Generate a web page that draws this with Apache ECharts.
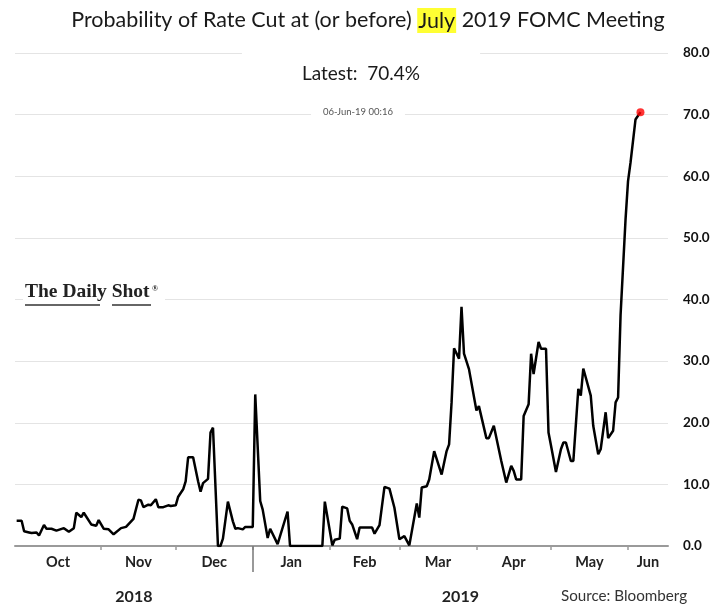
<!DOCTYPE html>
<html>
<head>
<meta charset="utf-8">
<script src="https://cdn.jsdelivr.net/npm/echarts@6/dist/echarts.min.js"></script>
<style>html,body{margin:0;padding:0;background:#fff;}#c{width:714px;height:607px;}</style>
</head>
<body>
<div id="c"></div>
<script>
// ---- data ----
const dates = [
'2018-09-28','2018-09-30','2018-10-01','2018-10-03','2018-10-04','2018-10-06','2018-10-07','2018-10-09','2018-10-10','2018-10-12',
'2018-10-14','2018-10-17','2018-10-19','2018-10-21','2018-10-22','2018-10-24','2018-10-25','2018-10-28','2018-10-30','2018-10-31',
'2018-11-02','2018-11-04','2018-11-06','2018-11-09','2018-11-11','2018-11-14','2018-11-16','2018-11-17','2018-11-18','2018-11-20',
'2018-11-21','2018-11-23','2018-11-24','2018-11-26','2018-11-28','2018-11-29','2018-12-01','2018-12-02','2018-12-04','2018-12-05',
'2018-12-06','2018-12-08','2018-12-10','2018-12-11','2018-12-12','2018-12-14','2018-12-15','2018-12-16','2018-12-18','2018-12-19',
'2018-12-20','2018-12-22','2018-12-24','2018-12-25','2018-12-26','2018-12-28','2018-12-29','2019-01-01','2019-01-02','2019-01-04',
'2019-01-05','2019-01-07','2019-01-08','2019-01-11','2019-01-15','2019-01-16','2019-01-29','2019-01-30','2019-02-02','2019-02-03',
'2019-02-05','2019-02-06','2019-02-08','2019-02-09','2019-02-10','2019-02-12','2019-02-13','2019-02-18','2019-02-19','2019-02-21',
'2019-02-23','2019-02-25','2019-02-27','2019-03-01','2019-03-03','2019-03-05','2019-03-08','2019-03-09','2019-03-10','2019-03-12',
'2019-03-13','2019-03-15','2019-03-18','2019-03-20','2019-03-21','2019-03-22','2019-03-23','2019-03-25','2019-03-26','2019-03-27',
'2019-03-29','2019-04-01','2019-04-02','2019-04-05','2019-04-06','2019-04-08','2019-04-09','2019-04-11','2019-04-13','2019-04-15',
'2019-04-16','2019-04-17','2019-04-19','2019-04-20','2019-04-22','2019-04-23','2019-04-24','2019-04-26','2019-04-27','2019-04-29',
'2019-04-30','2019-05-01','2019-05-03','2019-05-05','2019-05-06','2019-05-07','2019-05-09','2019-05-10','2019-05-12','2019-05-13',
'2019-05-14','2019-05-17','2019-05-18','2019-05-20','2019-05-21','2019-05-23','2019-05-24','2019-05-26','2019-05-27','2019-05-28',
'2019-05-29','2019-05-31','2019-06-01','2019-06-02','2019-06-04','2019-06-06'
];
const probability = [
4.1,4.1,2.4,2.2,2.1,2.2,1.7,3.4,2.8,2.8,
2.5,2.9,2.3,2.9,5.4,4.7,5.4,3.5,3.3,4.2,
2.8,2.7,1.9,2.9,3.1,4.4,7.5,7.4,6.3,6.7,
6.6,7.6,6.3,6.3,6.6,6.5,6.6,8.0,9.2,10.5,
14.4,14.4,10.5,8.8,10.2,10.9,18.4,19.2,0,0,
1.2,7.2,4.0,2.8,2.9,2.7,3.1,3.1,24.6,7.3,
5.9,1.3,2.8,0.3,5.6,0,0,7.2,0.1,1.0,
1.2,6.4,6.1,4.1,3.5,1.1,3.0,3.0,2.0,3.4,
9.6,9.3,6.2,1.1,1.6,0.1,6.9,4.6,9.5,9.7,
10.8,15.4,11.6,15.4,16.5,23.3,32.1,30.4,38.8,31.2,
28.7,22.0,22.7,17.5,17.5,19.5,17.6,13.8,10.3,13.0,
12.2,10.8,10.8,21.1,23.0,31.2,27.9,33.1,32.0,32.0,
18.4,16.3,12.0,15.7,16.8,16.8,13.8,13.8,25.5,24.4,
28.8,24.4,19.5,14.9,15.7,21.7,17.5,18.7,23.3,24.1,
37.5,53.0,59.2,62.2,69.2,70.4
];
const monthStarts = ['2018-11-01','2018-12-01','2019-01-01','2019-02-01','2019-03-01','2019-04-01','2019-05-01','2019-06-01'];
const monthLabels = ['Oct','Nov','Dec','Jan','Feb','Mar','Apr','May','Jun'];
const yearLabels = ['2018','2019'];
const yearBreak = '2019-01-01';
const yTicks = [0,10,20,30,40,50,60,70,80];
const axisStart = '2018-09-27T08:00:00';
const axisEnd = '2019-06-17T02:00:00';
const lastStamp = '06-Jun-19 00:16';

// ---- build ----
const toTs = s => { const p = s.split(/[-T:]/).map(Number); return Date.UTC(p[0], p[1]-1, p[2], p[3]||0, p[4]||0); };
const xMin = toTs(axisStart), xMax = toTs(axisEnd);
const tickTs = monthStarts.map(toTs);
const bounds = [xMin].concat(tickTs, [xMax]);
const labelTs = monthLabels.map((m, i) => Math.round((bounds[i] + bounds[i+1]) / 2));
const labelMap = {}; labelTs.forEach((t, i) => labelMap[t] = monthLabels[i]);
const brk = toTs(yearBreak);
const yearTs = [(xMin + brk) / 2, (brk + xMax) / 2].map(Math.round);
const yearMap = {}; yearTs.forEach((t, i) => yearMap[t] = yearLabels[i]);
const seriesData = dates.map((d, i) => [toTs(d), probability[i]]);
const last = seriesData[seriesData.length - 1];
const findLabel = (map, v) => { let best = '', bd = Infinity; for (const k in map) { const dd = Math.abs(+k - v); if (dd < bd) { bd = dd; best = map[k]; } } return bd < 864e5 ? best : ''; };

const FONT = 'Lato';
const chart = echarts.init(document.getElementById('c'), null, {renderer: 'canvas'});
chart.setOption({
  animation: false,
  backgroundColor: '#fff',
  textStyle: {fontFamily: FONT},
  grid: {left: 15, right: 46, top: 53, bottom: 61},
  title: [
    {
      text: 'Probability of Rate Cut at (or before) {h|July} 2019 FOMC Meeting',
      left: 368, top: 8, textAlign: 'center', padding: 0,
      textStyle: {fontFamily: FONT, fontSize: 21.5, fontWeight: 'normal', color: '#1a1a1a',
        rich: {h: {fontFamily: FONT, fontSize: 21.5, color: '#1a1a1a', backgroundColor: '#ffff33', padding: [2, 1, 1, 1]}}}
    },
    {
      text: 'Latest:  ' + last[1].toFixed(1) + '%',
      left: 301, top: 47, textAlign: 'center', backgroundColor: '#fff',
      padding: [17, 60, 10, 60],
      textStyle: {fontFamily: FONT, fontSize: 19, fontWeight: 'normal', color: '#1a1a1a'}
    },
    {
      text: lastStamp,
      left: 346, top: 105, textAlign: 'center', backgroundColor: '#fff',
      padding: [2, 12, 2, 12],
      textStyle: {fontFamily: FONT, fontSize: 9.5, fontWeight: 'normal', color: '#555'}
    },
    {
      text: 'Source: Bloomberg',
      left: 561, top: 589, padding: 0,
      textStyle: {fontFamily: FONT, fontSize: 15.2, fontWeight: 'normal', color: '#333'}
    }
  ],
  xAxis: [
    {
      type: 'value', min: xMin, max: xMax, scale: true,
      axisLine: {show: true, lineStyle: {color: '#9a9a9a', width: 2}},
      axisTick: {show: true, customValues: tickTs, length: 4, lineStyle: {color: '#9a9a9a', width: 1.5}},
      axisLabel: {show: true, customValues: labelTs, margin: 9, fontFamily: FONT, fontSize: 14.5, fontWeight: 'bold', color: '#222',
        formatter: v => findLabel(labelMap, v)},
      splitLine: {show: false}
    },
    {
      type: 'value', min: xMin, max: xMax, scale: true, position: 'bottom',
      axisLine: {show: false},
      axisTick: {show: true, customValues: [brk], length: 26, lineStyle: {color: '#777', width: 1.5}},
      axisLabel: {show: true, customValues: yearTs, margin: 43, fontFamily: FONT, fontSize: 16, fontWeight: 'bold', color: '#222',
        formatter: v => findLabel(yearMap, v)},
      splitLine: {show: false}
    }
  ],
  yAxis: {
    type: 'value', position: 'right', min: yTicks[0], max: yTicks[yTicks.length-1], interval: 10,
    axisLine: {show: false}, axisTick: {show: false},
    axisLabel: {margin: 15, fontFamily: FONT, fontSize: 13.5, fontWeight: 'bold', color: '#111', formatter: v => v.toFixed(1)},
    splitLine: {show: true, lineStyle: {color: '#e4e4e4', width: 1.2}}
  },
  graphic: [
    {type: 'rect', shape: {x: 23, y: 284, width: 142, height: 28}, style: {fill: '#fff'}, z: 100},
    {type: 'text', x: 25, y: 302, z: 101, style: {text: 'The Daily Shot', font: 'bold 19.5px "Liberation Serif"', fill: '#222', textVerticalAlign: 'bottom'}},
    {type: 'text', x: 152, y: 289, z: 101, style: {text: '®', font: 'bold 8px "Liberation Serif"', fill: '#222', textVerticalAlign: 'middle'}},
    {type: 'line', shape: {x1: 25, y1: 305, x2: 100, y2: 305}, style: {stroke: '#333', lineWidth: 1.5}, z: 101},
    {type: 'line', shape: {x1: 112, y1: 305, x2: 151, y2: 305}, style: {stroke: '#333', lineWidth: 1.5}, z: 101}
  ],
  series: [
    {
      type: 'line', data: seriesData, showSymbol: false, symbol: 'none',
      lineStyle: {color: '#000', width: 2.5}, z: 3
    },
    {
      type: 'scatter', data: [last], symbol: 'circle', symbolSize: 8,
      itemStyle: {color: '#ff0000'}, z: 4
    }
  ]
});
</script>
</body>
</html>
